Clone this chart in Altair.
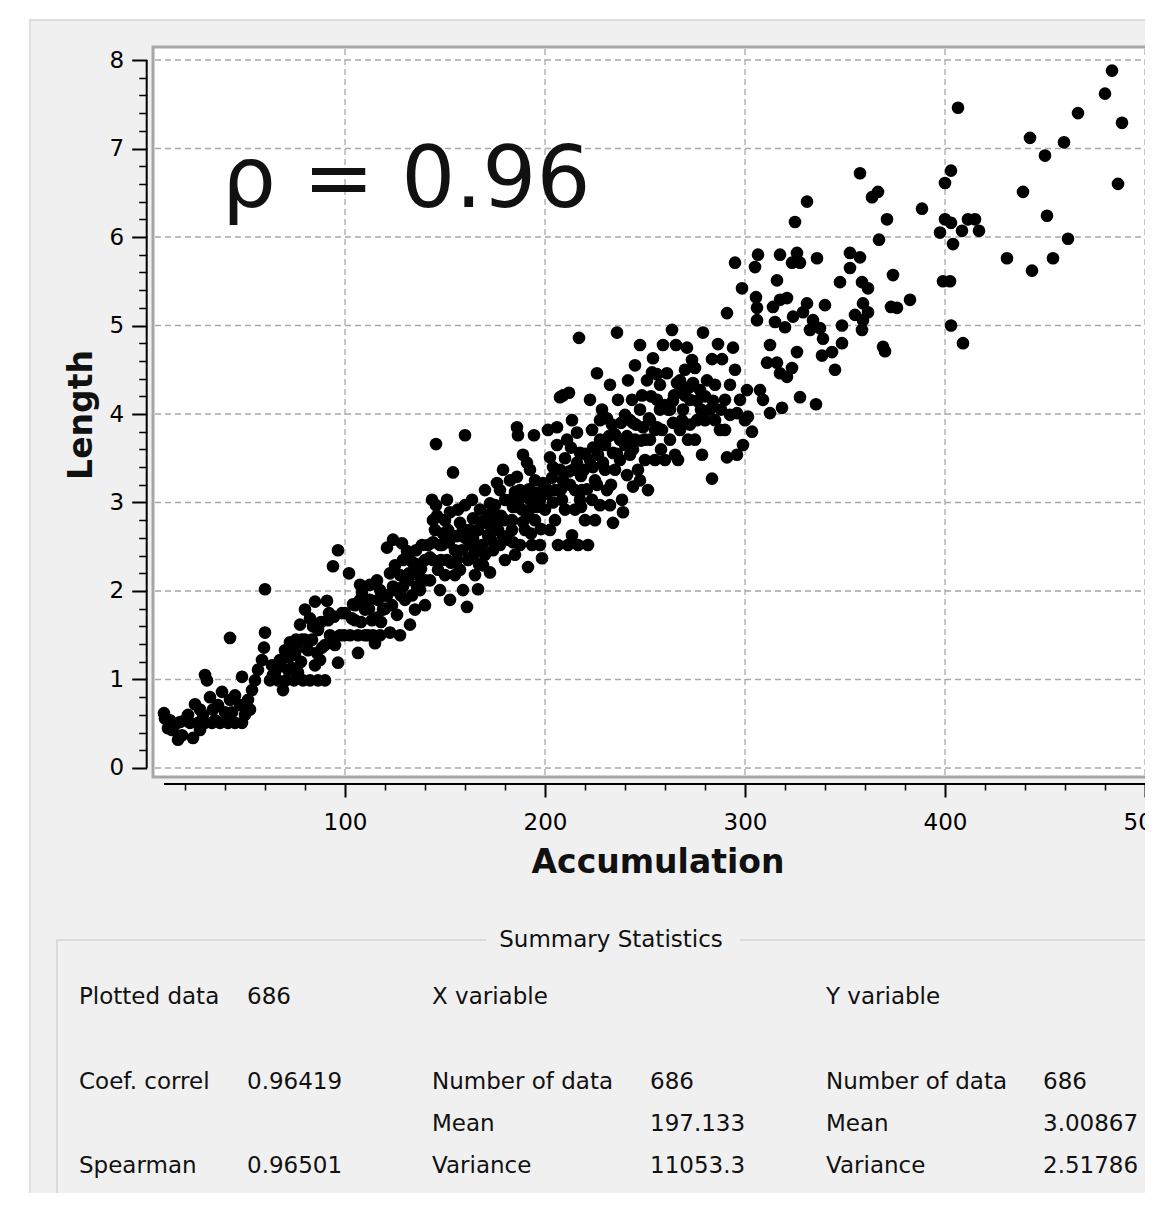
import altair as alt
import pandas as pd

# ---------------- data (Accumulation, Length) ----------------
pts_0_100 = [
    (9.5, 0.62), (12.5, 0.54), (13.5, 0.43), (16.5, 0.32), (17.5, 0.52), (20, 0.54), (10, 0.56), (15, 0.49),
    (11.5, 0.45), (18.5, 0.37),
    (24, 0.34), (25, 0.72), (30, 1.05), (31, 0.99), (27.5, 0.66), (32.5, 0.80), (35, 0.54), (38.5, 0.86),
    (36.5, 0.71), (22.5, 0.51), (26.5, 0.51), (30, 0.51), (33.5, 0.51), (37.5, 0.51), (21.5, 0.60), (29, 0.60),
    (34, 0.66), (40, 0.63), (27.5, 0.43),
    (42.5, 1.47), (48.5, 1.03), (42.5, 0.77), (45, 0.82), (47.5, 0.71), (51.5, 0.77), (53.5, 0.88), (55, 0.99),
    (56.5, 1.11), (58.5, 1.22), (59.5, 1.36), (60, 1.53), (60, 2.02), (52.5, 0.66), (50, 0.60), (41.5, 0.51),
    (45, 0.51), (48.5, 0.51), (43.5, 0.63),
    (62.5, 0.99), (65, 1.08), (67.5, 1.22), (69, 0.88), (70, 1.33), (72.5, 1.42), (73.5, 1.13), (75, 1.28),
    (77.5, 1.62), (78.5, 1.45), (76.5, 1.08), (79, 0.99), (66.5, 0.99), (70.5, 0.99), (74.5, 0.99), (71.5, 1.11),
    (63.5, 1.16), (75.5, 1.45),
    (80, 1.79), (82.5, 1.69), (85, 1.88), (83.5, 1.45), (86.5, 1.56), (87.5, 1.22), (88.5, 1.36), (90, 0.99),
    (91, 1.89), (92.5, 1.50), (94, 2.28), (94.5, 1.71), (96.5, 1.19), (96.5, 2.46), (97.5, 1.50), (98.5, 1.75),
    (99.5, 1.50), (82.5, 0.99), (86.5, 0.99), (81.5, 1.33), (85, 1.16), (90, 1.39), (95, 1.39), (91.5, 1.67),
    (64, 1.05), (68, 1.15), (72, 1.25), (76, 1.35), (80, 1.45), (84, 1.60), (88, 1.65), (92, 1.75),
    (78, 1.20), (86, 1.30),
]
pts_100_200 = [
    (102, 2.20), (102.5, 1.50), (105, 1.67), (106.5, 1.30), (107.5, 1.90), (108.5, 1.98), (110, 1.79),
    (111.5, 1.50), (112.5, 2.07), (113.5, 1.67), (115, 1.41), (116, 2.12), (116.5, 1.90), (117.5, 1.50),
    (119, 1.79), (120, 1.95), (106.5, 1.50), (110, 1.50), (114, 1.50), (105, 1.84), (112.5, 1.90), (107.5, 2.07),
    (117.5, 2.01), (103.5, 1.69),
    (121, 2.49), (122.5, 2.20), (122.5, 1.53), (124, 2.58), (125, 2.01), (126, 1.73), (127.5, 1.50),
    (128.5, 2.54), (129, 2.35), (130, 1.90), (131.5, 2.12), (132.5, 1.62), (133.5, 1.95), (134, 2.32),
    (135, 1.79), (136.5, 2.18), (137.5, 2.01), (138.5, 2.52), (140, 1.84), (125, 2.29), (127.5, 2.18),
    (132.5, 2.35), (135.5, 2.46), (140, 2.12), (123.5, 1.84),
    (129, 2.05), (136, 2.30), (131, 2.45), (138, 2.25), (121, 1.95), (118, 1.65),
    (100, 1.75), (104, 1.85), (108, 1.65), (112, 1.80), (116, 1.70), (120, 1.80), (124, 2.05), (128, 1.95),
    (132, 2.20), (136, 2.05),
    (145.5, 3.66), (154, 3.34), (160, 3.76), (143.5, 3.03), (151, 3.03), (141.5, 2.52), (142.5, 2.38),
    (144, 2.80), (145, 2.69), (146.5, 2.24), (147.5, 2.01), (148.5, 2.52), (150, 2.80), (151, 2.35),
    (152.5, 1.90), (153.5, 2.63), (155, 2.18), (156.5, 2.92), (157.5, 2.77), (158.5, 2.46), (159, 2.01),
    (160, 2.97), (142.5, 2.12), (147.5, 2.52), (151.5, 2.69), (155, 2.46), (157.5, 2.24), (150, 2.18),
    (145.5, 2.97), (152.5, 2.89),
    (144, 2.35), (149, 2.65), (153, 2.32), (156, 2.62), (159, 2.70), (146, 2.85),
    (140, 2.35), (144, 2.55), (148, 2.35), (152, 2.55), (156, 2.35), (160, 2.60),
    (161, 1.82), (161.5, 2.35), (162.5, 2.69), (163.5, 3.03), (164, 2.82), (165, 2.52), (166.5, 2.02),
    (167.5, 2.92), (169, 2.29), (170, 3.14), (171.5, 2.63), (172.5, 2.99), (172.5, 2.21), (174, 2.46),
    (175, 2.80), (176, 3.22), (177.5, 2.52), (179, 3.37), (180, 3.03), (180, 2.35), (162.5, 2.52),
    (166.5, 2.69), (168.5, 2.52), (171.5, 2.86), (175, 2.97), (176.5, 2.69), (170, 2.41), (177.5, 3.14),
    (165, 2.18),
    (164, 2.40), (168, 2.78), (173, 2.58), (178, 2.85), (167, 2.30), (179, 2.62),
    (164, 2.60), (168, 2.45), (172, 2.75), (176, 2.85),
    (181.5, 2.58), (182.5, 3.25), (183.5, 2.80), (185, 3.12), (186, 3.85), (186, 3.29), (186.5, 3.76),
    (187.5, 2.52), (188.5, 2.92), (189, 3.54), (190, 2.69), (191, 3.45), (191.5, 2.27), (192.5, 3.03),
    (193.5, 2.52), (194.5, 3.76), (195, 3.25), (196, 3.11), (197.5, 2.52), (198.5, 2.37), (199, 3.22),
    (182.5, 3.03), (187.5, 3.14), (191.5, 2.86), (195, 2.80), (197.5, 3.03), (185, 2.41), (192.5, 3.37),
    (183.5, 2.69),
    (186, 2.95), (189, 2.78), (194, 2.95), (198, 2.70), (184, 2.55), (193, 2.65),
    (180, 2.80), (184, 2.95), (188, 3.05), (192, 3.15), (196, 2.95),
]
pts_200_300 = [
    (200, 2.92), (201.5, 3.82), (202.5, 3.51), (203.5, 3.28), (205, 2.80), (206, 3.85), (206.5, 2.52),
    (207.5, 4.19), (208.5, 3.03), (210, 3.50), (211, 3.71), (211.5, 2.52), (212.5, 3.20), (213.5, 3.93),
    (214, 3.37), (215, 2.92), (216, 3.79), (216.5, 2.52), (217.5, 3.56), (218.5, 3.14), (219.5, 3.37),
    (202.5, 2.69), (205, 3.14), (207.5, 3.37), (210, 2.92), (215, 3.14), (213.5, 2.63), (217.5, 3.03),
    (209, 4.21), (212, 4.24), (217, 4.86),
    (204, 3.00), (209, 3.25), (213, 3.62), (218, 3.30), (201, 3.10), (206, 3.65),
    (200, 3.20), (204, 3.40), (208, 3.15), (212, 3.35), (216, 3.45), (218, 2.95),
    (220, 2.80), (221.5, 2.52), (222.5, 4.16), (223.5, 3.82), (225, 3.25), (226, 4.46), (226.5, 3.54),
    (227.5, 2.97), (228.5, 4.05), (230, 3.65), (231, 3.14), (232.5, 4.33), (233.5, 3.88), (234, 3.56),
    (234, 2.77), (235, 3.37), (236, 4.92), (236.5, 4.16), (237.5, 3.71), (238.5, 3.03), (239, 2.89),
    (225, 2.80), (227.5, 3.71), (230, 3.37), (232.5, 2.97), (235, 3.77), (237.5, 3.48), (222.5, 3.48),
    (227.5, 3.93), (223.5, 3.03),
    (224, 3.62), (229, 3.45), (233, 3.20), (238, 3.90), (221, 3.15), (231, 3.95),
    (220, 3.55), (224, 3.40), (228, 3.65), (232, 3.75), (236, 3.55), (226, 3.20),
    (240, 3.99), (241, 3.31), (241.5, 4.38), (242.5, 3.54), (243.5, 4.16), (244, 3.18), (245, 4.55),
    (245.5, 3.88), (246.5, 3.37), (247.5, 4.78), (248.5, 4.21), (250, 3.71), (251, 4.38), (252.5, 3.93),
    (253.5, 4.47), (254, 4.63), (255, 3.48), (256, 4.16), (257.5, 4.33), (258.5, 3.82), (259, 4.78),
    (242.5, 3.93), (247.5, 4.05), (250, 3.48), (252.5, 3.71), (255, 3.82), (247.5, 3.25), (257.5, 4.05),
    (245, 3.71), (251.5, 3.14),
    (244, 3.60), (249, 3.85), (253, 4.20), (258, 3.60), (241, 3.75), (256, 4.45),
    (240, 3.65), (244, 3.90), (248, 3.70), (252, 3.95), (256, 3.85),
    (261, 4.46), (261.5, 4.05), (262.5, 3.71), (263.5, 4.95), (264.5, 4.21), (265.5, 4.78), (266.5, 3.48),
    (267.5, 4.38), (268.5, 3.93), (270, 4.50), (271, 4.75), (271.5, 3.71), (272.5, 4.16), (273.5, 4.61),
    (275, 4.52), (276, 3.93), (277.5, 4.27), (278.5, 3.54), (279, 4.92), (262.5, 4.05), (267.5, 3.82),
    (272.5, 3.88), (265, 3.54), (275, 3.71), (270, 4.21), (260, 3.48),
    (264, 3.90), (269, 4.05), (274, 4.35), (278, 4.05), (266, 4.35),
    (260, 4.10), (264, 4.15), (268, 4.25), (272, 4.30), (276, 4.15),
    (281, 4.38), (282.5, 4.05), (283.5, 3.27), (283.5, 4.62), (285, 4.33), (286.5, 4.79), (287.5, 3.82),
    (288.5, 4.62), (290, 4.16), (291, 3.51), (291, 5.14), (292.5, 4.33), (294, 4.75), (295, 5.71),
    (295, 4.50), (296, 4.01), (296, 3.54), (297.5, 4.16), (298.5, 5.42), (299, 3.65), (300, 3.93),
    (285, 3.93), (280, 3.93), (290, 3.82), (292.5, 3.99),
    (280, 4.20), (284, 4.15), (288, 4.05),
]
pts_300_400 = [
    (301, 4.27), (301.5, 3.97), (303.5, 3.80), (305, 5.66), (305.5, 5.32), (306, 5.20), (306, 5.06),
    (306.5, 5.80), (307.5, 4.27), (309, 4.16), (311, 4.58), (312.5, 4.01), (312.5, 4.78), (314, 5.21),
    (315, 5.04), (316, 5.51), (316, 4.58), (317.5, 5.80), (317.5, 5.29), (317.5, 4.46), (318.5, 4.07),
    (320, 4.98),
    (321, 5.31), (321, 4.42), (323.5, 5.71), (323.5, 4.52), (324, 5.10), (325, 6.17), (326, 5.82),
    (326, 4.70), (327.5, 5.71), (327.5, 4.19), (329, 5.15), (331, 6.40), (331, 5.25), (332.5, 4.95),
    (334, 5.06), (335.5, 4.11), (336, 5.76), (337.5, 4.97), (338.5, 4.66), (339, 4.85), (340, 5.23),
    (343.5, 4.70), (345, 4.50), (347.5, 5.49), (348.5, 5.00), (348.5, 4.80), (352.5, 5.82), (352.5, 5.65),
    (355, 5.12), (357.5, 5.77), (357.5, 6.72), (358.5, 5.49), (358.5, 4.95), (359, 5.06), (359, 5.25),
    (361.5, 5.42), (361.5, 5.15), (363.5, 6.45), (366.5, 6.51), (367, 5.97), (369, 4.76), (370, 4.71),
    (371, 6.20), (373, 5.21), (374, 5.57), (376, 5.20),
    (382.5, 5.29), (388.5, 6.32), (397.5, 6.05), (399, 5.50),
]
pts_400_up = [
    (400, 6.61), (400, 6.20), (402.5, 5.50), (403, 6.75), (403, 6.16), (403, 5.00), (404, 5.92),
    (406.5, 7.46), (408.5, 6.07), (409, 4.80), (411.5, 6.20), (415, 6.20), (417, 6.07), (431, 5.76),
    (439, 6.51), (442.5, 7.12), (443.5, 5.62), (450, 6.92), (451, 6.24), (454, 5.76), (459.5, 7.07),
    (461.5, 5.98), (466.5, 7.40), (480, 7.62), (483.5, 7.88), (486.5, 6.60), (488.5, 7.29), (503.5, 7.69),
]

x_major = [100, 200, 300, 400, 500]
x_minor = [20, 40, 60, 80, 120, 140, 160, 180, 220, 240, 260, 280, 320, 340, 360, 380,
           420, 440, 460, 480]
y_major = [0, 1, 2, 3, 4, 5, 6, 7, 8]
y_minor = [0.2, 0.4, 0.6, 0.8, 1.2, 1.4, 1.6, 1.8, 2.2, 2.4, 2.6, 2.8, 3.2, 3.4, 3.6, 3.8,
           4.2, 4.4, 4.6, 4.8, 5.2, 5.4, 5.6, 5.8, 6.2, 6.4, 6.6, 6.8, 7.2, 7.4, 7.6, 7.8]

stats_rows = [
    ["Plotted data", "686", "X variable", "", "Y variable", ""],
    ["Coef. correl", "0.96419", "Number of data", "686", "Number of data", "686"],
    ["", "", "Mean", "197.133", "Mean", "3.00867"],
    ["Spearman", "0.96501", "Variance", "11053.3", "Variance", "2.51786"],
]
rho_label = "ρ = 0.96"

# ---------------- layout ----------------
W, H = 1137, 1185
FONT = "DejaVu Sans"
COL_X = [71, 239, 424, 642, 818, 1035]
ROW_Y = [989, 1074, 1116, 1158]

pts = pts_0_100 + pts_100_200 + pts_200_300 + pts_300_400 + pts_400_up
df = pd.DataFrame(pts, columns=["Accumulation", "Length"])

xs = alt.Scale(domain=[4, 500], range=[145, 1137], nice=False, zero=False)
ys = alt.Scale(domain=[-0.0904, 8.1356], range=[768, 40], nice=False, zero=False)

Y_OFF = -138.7
X_OFF = 776 - H

y_axis_major = alt.Axis(orient="left", offset=Y_OFF, values=y_major, tickSize=15, tickWidth=2,
                        tickColor="black", domain=False, grid=False, labelFontSize=23, labelFont=FONT,
                        labelColor="black", labelPadding=8, title=None, zindex=1, labelOverlap=False,
                        labelFlush=False, format="d")
y_axis_minor = alt.Axis(orient="left", offset=Y_OFF, values=y_minor, tickSize=8, tickWidth=1.5,
                        tickColor="black", domain=False, grid=False, labels=False, title=None, zindex=1)
x_axis_major = alt.Axis(orient="bottom", offset=X_OFF, values=x_major, tickSize=13, tickWidth=2,
                        tickColor="black", domain=False, grid=False, labelFontSize=23, labelFont=FONT,
                        labelColor="black", labelPadding=14, title=None, zindex=1, labelOverlap=False,
                        labelFlush=False, format="d")
x_axis_minor = alt.Axis(orient="bottom", offset=X_OFF, values=x_minor, tickSize=6, tickWidth=1.5,
                        tickColor="black", domain=False, grid=False, labels=False, title=None, zindex=1)

ONE = alt.Data(values=[{}])


def box(x, x2, y, y2, fill, stroke=None, sw=0, fill_opacity=1):
    kw = dict(fill=fill, fillOpacity=fill_opacity)
    if stroke:
        kw.update(stroke=stroke, strokeWidth=sw)
    return alt.Chart(ONE).mark_rect(**kw).encode(
        x=alt.value(x), x2=alt.value(x2), y=alt.value(y), y2=alt.value(y2))


def txt(s, x, y, size=23, weight="normal", align="left", angle=None, baseline="middle"):
    kw = dict(align=align, baseline=baseline, fontSize=size, font=FONT, fontWeight=weight, color="#111111")
    if angle is not None:
        kw["angle"] = angle
    return alt.Chart(ONE).mark_text(**kw).encode(x=alt.value(x), y=alt.value(y), text=alt.value(s))


layers = []
# grey dialog panel
layers.append(box(22, 1150, 12, 1200, "#f0f0f0", "#dedede", 2))
# summary statistics group box
layers.append(box(49, 1150, 932, 1194, "#f0f0f0", "#d4d4d4", 1.5, fill_opacity=0))
layers.append(box(478, 732, 918, 946, "#f0f0f0"))
# plot frame
layers.append(box(145, 1150, 39, 769, "white", "#a6a6a6", 3))

# grid lines (carry the minor-tick axes)
layers.append(
    alt.Chart(pd.DataFrame({"g": y_major})).mark_rule(color="#a8a8a8", strokeDash=[6, 4], strokeWidth=1.3)
    .encode(y=alt.Y("g:Q", scale=ys, axis=y_axis_minor), x=alt.value(147), x2=alt.value(1150))
)
layers.append(
    alt.Chart(pd.DataFrame({"g": x_major})).mark_rule(color="#a8a8a8", strokeDash=[6, 4], strokeWidth=1.3)
    .encode(x=alt.X("g:Q", scale=xs, axis=x_axis_minor), y=alt.value(41), y2=alt.value(768))
)

# points
layers.append(
    alt.Chart(df).mark_circle(size=160, color="black", opacity=1)
    .encode(x=alt.X("Accumulation:Q", scale=xs, axis=x_axis_major),
            y=alt.Y("Length:Q", scale=ys, axis=y_axis_major))
)

# axis lines
layers.append(
    alt.Chart(ONE).mark_rule(color="black", strokeWidth=2)
    .encode(x=alt.value(138.7), y=alt.YDatum(0, type="quantitative", scale=ys, axis=None),
            y2=alt.Y2Datum(8))
)
layers.append(
    alt.Chart(ONE).mark_rule(color="black", strokeWidth=2)
    .encode(y=alt.value(776), x=alt.XDatum(9.5, type="quantitative", scale=xs, axis=None),
            x2=alt.value(1150))
)

# titles and annotations
layers.append(txt("Accumulation", 650, 855, size=33, weight="bold", align="center"))
layers.append(txt("Length", 74, 407, size=33, weight="bold", align="center", angle=270))
layers.append(txt(rho_label, 214, 199, size=85, baseline="alphabetic"))
layers.append(txt("Summary Statistics", 603, 932, size=23, align="center"))

for r, row in enumerate(stats_rows):
    for c, s in enumerate(row):
        if s:
            layers.append(txt(s, COL_X[c], ROW_Y[r]))

chart = (
    alt.layer(*layers)
    .properties(width=W, height=H, autosize=alt.AutoSizeParams(type="none"), padding=0,
                background="white")
    .resolve_axis(x="independent", y="independent")
    .configure_view(stroke=None)
)

chart.save("out.html", embed_options={"renderer": "svg", "actions": False})
